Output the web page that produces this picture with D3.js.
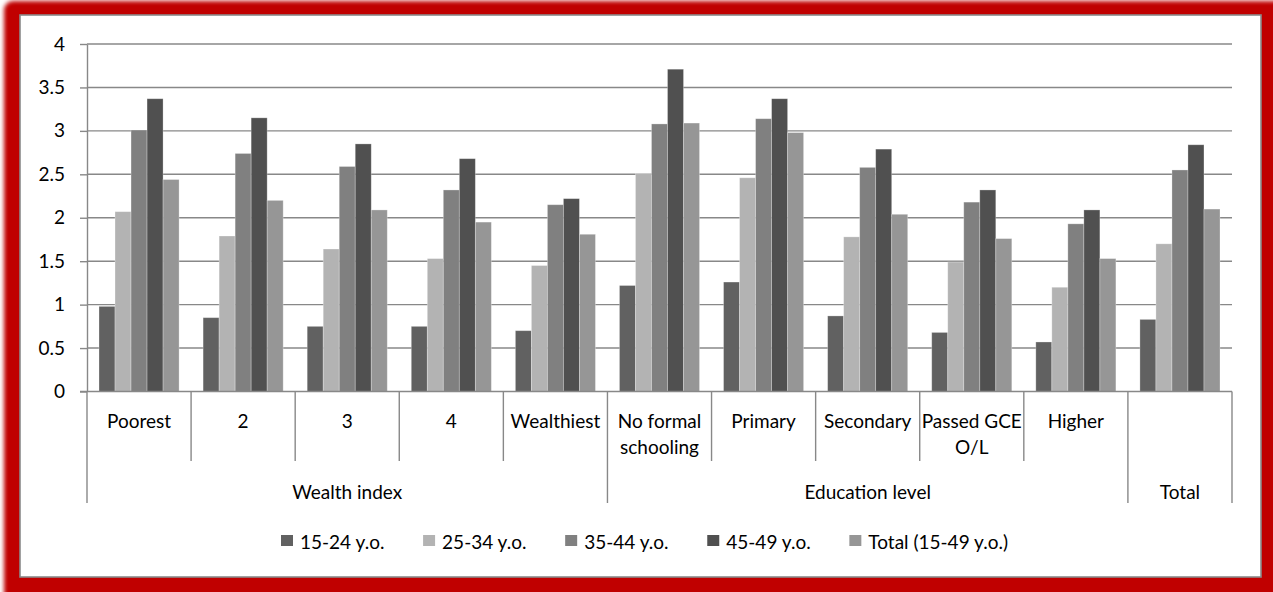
<!DOCTYPE html>
<html>
<head>
<meta charset="utf-8">
<script src="https://cdn.jsdelivr.net/npm/d3@7"></script>
<style>
  html, body { margin: 0; padding: 0; background: #ffffff; }
  svg { display: block; }
  text { font-family: Lato, "Open Sans", sans-serif; fill: #000; }
</style>
</head>
<body>
<svg id="chart" width="1273" height="592"></svg>
<script>
// Categories along the horizontal axis
const categories = ["Poorest", "2", "3", "4", "Wealthiest",
  "No formal schooling", "Primary", "Secondary", "Passed GCE O/L", "Higher", "Total"];
// Printed labels under each bar group (split on "\n"; the overall total has only its group label)
const categoryLabels = ["Poorest", "2", "3", "4", "Wealthiest",
  "No formal\nschooling", "Primary", "Secondary", "Passed GCE\nO/L", "Higher", ""];
const groupNames = ["Wealth index", "Education level", "Total"];
const groupSizes = [5, 5, 1];

const seriesNames = ["15-24 y.o.", "25-34 y.o.", "35-44 y.o.", "45-49 y.o.", "Total (15-49 y.o.)"];
const seriesColors = ["#616161", "#b3b3b3", "#808080", "#505050", "#969696"];

const age15_24  = [0.98, 0.85, 0.75, 0.75, 0.70, 1.22, 1.26, 0.87, 0.68, 0.57, 0.83];
const age25_34  = [2.07, 1.79, 1.64, 1.53, 1.45, 2.51, 2.46, 1.78, 1.49, 1.20, 1.70];
const age35_44  = [3.01, 2.74, 2.59, 2.32, 2.15, 3.08, 3.14, 2.58, 2.18, 1.93, 2.55];
const age45_49  = [3.37, 3.15, 2.85, 2.68, 2.22, 3.71, 3.37, 2.79, 2.32, 2.09, 2.84];
const total15_49 = [2.44, 2.20, 2.09, 1.95, 1.81, 3.09, 2.98, 2.04, 1.76, 1.53, 2.10];
const seriesValues = [age15_24, age25_34, age35_44, age45_49, total15_49];

const yTicks = [0, 0.5, 1, 1.5, 2, 2.5, 3, 3.5, 4];
const yTickLabels = ["0", "0.5", "1", "1.5", "2", "2.5", "3", "3.5", "4"];

const W = 1273, H = 592;
const plot = { left: 87, right: 1232, top: 44, bottom: 391.5 };
const lineColor = "#888888";
const fontSize = 19;

const svg = d3.select("#chart");

// ---- red framed panel ----
const defs = svg.append("defs");
defs.append("filter").attr("id", "soft").attr("x", "-5%").attr("y", "-5%")
  .attr("width", "110%").attr("height", "110%")
  .append("feGaussianBlur").attr("stdDeviation", 2.2);

svg.append("rect").attr("x", 4).attr("y", 1).attr("width", W + 20).attr("height", H + 20)
  .attr("rx", 9).attr("fill", "#c00000").attr("filter", "url(#soft)");
svg.append("rect").attr("x", 20).attr("y", 15).attr("width", 1241).attr("height", 562)
  .attr("fill", "#ffffff").attr("stroke", "#8a8a8a").attr("stroke-width", 1.6);

// ---- scales ----
const x0 = d3.scaleBand().domain(d3.range(categories.length))
  .range([plot.left, plot.right]).paddingInner(0).paddingOuter(0);
const x1 = d3.scaleBand().domain(d3.range(seriesNames.length))
  .range([0, x0.bandwidth()]).paddingInner(0).paddingOuter(0.75);
const y = d3.scaleLinear().domain([0, 4]).range([plot.bottom, plot.top]);

// ---- gridlines ----
svg.append("g").selectAll("line").data(yTicks.slice(1)).join("line")
  .attr("x1", plot.left).attr("x2", plot.right)
  .attr("y1", d => y(d)).attr("y2", d => y(d))
  .attr("stroke", lineColor).attr("stroke-width", 1.4);

// ---- y axis ----
const yAxis = d3.axisLeft(y).tickValues(yTicks)
  .tickFormat((d, i) => yTickLabels[i]).tickSize(7).tickSizeOuter(0).tickPadding(15);
const gy = svg.append("g").attr("transform", `translate(${plot.left},0)`).call(yAxis);
gy.select(".domain").attr("stroke", lineColor).attr("stroke-width", 1.4);
gy.selectAll(".tick line").attr("stroke", lineColor).attr("stroke-width", 1.4);
gy.selectAll(".tick text").attr("font-size", fontSize).attr("font-family", "Lato").attr("fill", "#000");

// ---- bars ----
const barData = [];
categories.forEach((c, ci) => {
  seriesValues.forEach((vals, si) => barData.push({ ci, si, v: vals[ci] }));
});
svg.append("g").selectAll("rect").data(barData).join("rect")
  .attr("x", d => x0(d.ci) + x1(d.si))
  .attr("width", x1.bandwidth())
  .attr("y", d => y(d.v))
  .attr("height", d => y(0) - y(d.v))
  .attr("fill", d => seriesColors[d.si])
  .attr("stroke", "#ffffff").attr("stroke-opacity", 0.35).attr("stroke-width", 0.8);

// ---- category axis ----
const gx = svg.append("g");
gx.append("line").attr("x1", plot.left - 7).attr("x2", plot.right)
  .attr("y1", y(0)).attr("y2", y(0)).attr("stroke", lineColor).attr("stroke-width", 1.4);

// group boundaries (long separators)
const groupStarts = [];
let acc = 0;
groupSizes.forEach(n => { groupStarts.push(acc); acc += n; });
const groupEdges = groupStarts.concat([categories.length]);
const edgeX = i => (i >= categories.length ? plot.right : x0(i));

categories.forEach((c, i) => {
  if (i === 0) return;
  if (groupEdges.includes(i)) return;
  gx.append("line").attr("x1", edgeX(i)).attr("x2", edgeX(i))
    .attr("y1", y(0)).attr("y2", 461).attr("stroke", lineColor).attr("stroke-width", 1.4);
});
groupEdges.forEach(i => {
  gx.append("line").attr("x1", edgeX(i)).attr("x2", edgeX(i))
    .attr("y1", y(0)).attr("y2", 503).attr("stroke", lineColor).attr("stroke-width", 1.4);
});

// category labels
categoryLabels.forEach((c, i) => {
  if (!c) return;
  const cx = x0(i) + x0.bandwidth() / 2;
  const t = gx.append("text").attr("text-anchor", "middle").attr("font-size", fontSize)
    .attr("x", cx).attr("y", 420).attr("dominant-baseline", "central");
  c.split("\n").forEach((line, li) => {
    t.append("tspan").attr("x", cx).attr("dy", li === 0 ? 0 : 26).text(line);
  });
});

// group labels
groupNames.forEach((g, gi) => {
  const a = edgeX(groupEdges[gi]), b = edgeX(groupEdges[gi + 1]);
  gx.append("text").attr("text-anchor", "middle").attr("font-size", fontSize)
    .attr("dominant-baseline", "central")
    .attr("x", (a + b) / 2).attr("y", 491).text(g);
});

// ---- legend ----
const legend = svg.append("g");
const items = seriesNames.map((name, i) => {
  const g = legend.append("g");
  g.append("rect").attr("x", 0).attr("y", -6).attr("width", 12).attr("height", 11)
    .attr("fill", seriesColors[i]);
  const t = g.append("text").attr("x", 19).attr("y", 0).attr("font-size", fontSize)
    .attr("dominant-baseline", "central").text(name);
  return { g, w: 19 + t.node().getComputedTextLength() };
});
const legendLeft = 281, legendRight = 1008;
const gap = (legendRight - legendLeft - d3.sum(items, d => d.w)) / (items.length - 1);
let lx = legendLeft;
items.forEach(it => {
  it.g.attr("transform", `translate(${lx},541)`);
  lx += it.w + gap;
});
</script>
</body>
</html>
